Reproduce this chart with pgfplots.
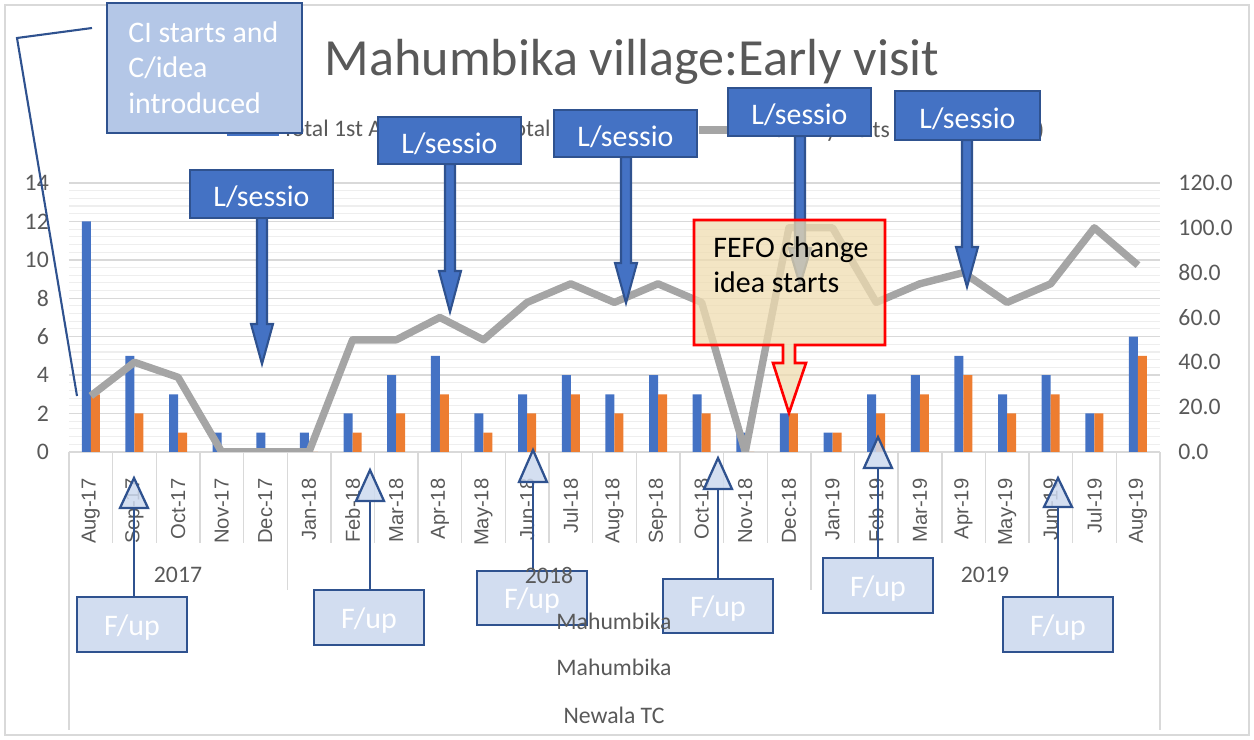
\documentclass[border=0pt]{standalone}
\usepackage{pgfplots}
\pgfplotsset{compat=1.18}
\usepackage{pgfplotstable}
\usepackage{fontspec}
\setmainfont{Carlito}
\newfontfamily\arialf{Liberation Sans}

\definecolor{cblue}{HTML}{4472C4}
\definecolor{corange}{HTML}{ED7D31}
\definecolor{cgray}{HTML}{A5A5A5}
\definecolor{dkblue}{HTML}{2F528F}
\definecolor{txtgray}{HTML}{595959}
\definecolor{gridc}{HTML}{D9D9D9}
\definecolor{minorc}{HTML}{EEEEEE}
\definecolor{ciblue}{HTML}{B4C7E7}
\definecolor{fupblue}{HTML}{CDD9EE}
\definecolor{parch}{HTML}{EFDCB0}

% month index, total 1st visits, early visits, % early
\pgfplotstableread{
x blue orange pct
0 12 3 25.0
1 5 2 40.0
2 3 1 33.3
3 1 0 0
4 1 0 0
5 1 0 0
6 2 1 50.0
7 4 2 50.0
8 5 3 60.0
9 2 1 50.0
10 3 2 66.7
11 4 3 75.0
12 3 2 66.7
13 4 3 75.0
14 3 2 66.7
15 1 0 0
16 2 2 100.0
17 1 1 100.0
18 3 2 66.7
19 4 3 75.0
20 5 4 80.0
21 3 2 66.7
22 4 3 75.0
23 2 2 100.0
24 6 5 83.3
}\datatable

\begin{document}
\begin{tikzpicture}
% px grid: 1px = 0.02cm, y downwards
\begin{scope}[x=0.02cm, y=-0.02cm]
\draw[gridc, line width=0.8pt] (5,5) rectangle (1249,735);
\end{scope}

\begin{axis}[
  at={(1.38cm,-9.04cm)}, anchor=south west,
  scale only axis, width=21.82cm, height=5.38cm,
  xmin=-0.5, xmax=24.5, ymin=0, ymax=14,
  ybar=0pt, bar width=0.18cm,
  axis line style={draw=none},
  tick style={draw=none},
  xtick={0,...,24},
  xticklabels={Aug-17,Sep-17,Oct-17,Nov-17,Dec-17,Jan-18,Feb-18,Mar-18,Apr-18,May-18,Jun-18,Jul-18,Aug-18,Sep-18,Oct-18,Nov-18,Dec-18,Jan-19,Feb-19,Mar-19,Apr-19,May-19,Jun-19,Jul-19,Aug-19},
  xticklabel style={rotate=90, anchor=east, font=\arialf\fontsize{11.5}{11.5}\selectfont, text=txtgray},
  xticklabel shift=0.26cm,
  ytick={0,2,...,14},
  minor y tick num=4,
  ymajorgrids, yminorgrids,
  major grid style={gridc, line width=0.8pt},
  minor grid style={minorc, line width=0.6pt},
  yticklabel style={font=\fontsize{13.5}{13.5}\selectfont, text=txtgray, /pgf/number format/assume math mode=true},
  yticklabel shift=0.28cm,
  legend columns=3,
  legend style={at={(0.521,1.197)}, anchor=center, draw=none, fill=none,
    font=\fontsize{13.5}{13.5}\selectfont, text=txtgray,
    /tikz/every even column/.append style={column sep=0.7cm}},
]
\addplot[fill=cblue, draw=none,
  legend image code/.code={\fill[cblue] (0cm,-0.13cm) rectangle (1.04cm,0.13cm);}]
  table[x=x, y=blue]{\datatable};
\addlegendentry{Total 1st ANC}
\addplot[fill=corange, draw=none,
  legend image code/.code={\fill[corange] (0cm,-0.13cm) rectangle (1.04cm,0.13cm);}]
  table[x=x, y=orange]{\datatable};
\addlegendentry{Total early visits}
\addlegendimage{legend image code/.code={\draw[cgray, line width=4.2pt] (0cm,0cm) -- (1.2cm,0cm);}}
\addlegendentry{\% early visits (before 12 wks)}
\end{axis}

\begin{axis}[
  at={(1.38cm,-9.04cm)}, anchor=south west,
  scale only axis, width=21.82cm, height=5.38cm,
  xmin=-0.5, xmax=24.5, ymin=0, ymax=120,
  axis x line=none,
  axis y line*=right,
  axis line style={draw=none},
  tick style={draw=none},
  ytick={0,20,...,120},
  yticklabel={\pgfmathprintnumber[fixed,fixed zerofill,precision=1,assume math mode=true]{\tick}},
  yticklabel style={font=\fontsize{13.5}{13.5}\selectfont, text=txtgray},
  yticklabel shift=0.25cm,
]
\addplot[cgray, line width=4.2pt, line join=round, mark=none]
  table[x=x, y=pct]{\datatable};
\end{axis}

\begin{scope}[x=0.02cm, y=-0.02cm]
% title
\node[anchor=base, text=txtgray, font=\fontsize{29.7}{30}\selectfont, inner sep=0]
  at (632,76) {Mahumbika village:Early visit};

% category separators
\foreach \i in {1,...,24}
  \draw[gridc, line width=0.8pt] ({69+\i*43.64},452) -- ({69+\i*43.64},543);
\foreach \i in {5,17}
  \draw[gridc, line width=0.8pt] ({69+\i*43.64},452) -- ({69+\i*43.64},590);
\foreach \i in {0,25}
  \draw[gridc, line width=0.8pt] ({69+\i*43.64},452) -- ({69+\i*43.64},730);

% L/sessio callouts: box x1, x2, y1, y2, arrow x, head start, tip
\foreach \xa/\xb/\ya/\yb/\cx/\hs/\tp in {190/333/170/218/262/324/364,
    378/521/117/164/450/271/312, 554/697/110/157/626/263/303,
    728/871/88/136/800/248/285, 895/1040/91/140/967/247/287}{
  \filldraw[fill=cblue, draw=dkblue, line width=1.2pt, line join=miter]
    (\cx-5,\yb) -- (\cx-5,\hs) -- (\cx-11,\hs) -- (\cx,\tp) -- (\cx+11,\hs)
    -- (\cx+5,\hs) -- (\cx+5,\yb) -- cycle;
  \filldraw[fill=cblue, draw=dkblue, line width=1.3pt] (\xa,\ya) rectangle (\xb,\yb);
  \node[text=white, font=\fontsize{17}{17}\selectfont]
    at ({(\xa+\xb)/2},{(\ya+\yb)/2+3}) {L/sessio};
}

% FEFO callout
\filldraw[fill=parch, fill opacity=0.75, draw=red, line width=1.5pt]
  (694,220) -- (885,220) -- (885,345) -- (795,345) -- (795,363) -- (806,363)
  -- (789,413) -- (773,363) -- (783,363) -- (783,345) -- (694,345) -- cycle;
\node[anchor=base west, inner sep=0, font=\fontsize{17}{17}\selectfont] at (713,257) {FEFO change};
\node[anchor=base west, inner sep=0, font=\fontsize{17}{17}\selectfont] at (713,292) {idea starts};

% CI box
\draw[dkblue, line width=1.2pt] (92,28) -- (17,38) -- (77,396);
\filldraw[fill=ciblue, draw=dkblue, line width=1.3pt] (107,3) rectangle (302,133);
\node[anchor=base west, inner sep=0, text=white, font=\fontsize{17}{17}\selectfont] at (128,43) {CI starts and};
\node[anchor=base west, inner sep=0, text=white, font=\fontsize{17}{17}\selectfont] at (128,78) {C/idea};
\node[anchor=base west, inner sep=0, text=white, font=\fontsize{17}{17}\selectfont] at (128,113) {introduced};

% F/up callouts: box x1, x2, y1, y2, line x, tip, triangle base
\foreach \xa/\xb/\ya/\yb/\cx/\tp/\bs in {77/187/597/652/134/478/508,
    314/424/590/645/370/470/501, 477/587/571/625/533/450/482,
    663/773/579/633/718/458/489, 823/933/558/613/878/437/468,
    1003/1113/597/652/1058/478/507}{
  \draw[dkblue, line width=1.2pt] (\cx,\ya) -- (\cx,\bs);
  \filldraw[fill=fupblue, fill opacity=0.85, draw=dkblue, line width=1.3pt, line join=miter]
    (\cx,\tp) -- (\cx+14,\bs) -- (\cx-14,\bs) -- cycle;
  \filldraw[fill=fupblue, fill opacity=0.9, draw=dkblue, line width=1.5pt] (\xa,\ya) rectangle (\xb,\yb);
  \node[text=white, font=\fontsize{17}{17}\selectfont]
    at ({(\xa+\xb)/2},{(\ya+\yb)/2+3}) {F/up};
}

% lower category levels
\node[text=txtgray, font=\fontsize{13.5}{13.5}\selectfont] at (178,575) {2017};
\node[text=txtgray, font=\fontsize{13.5}{13.5}\selectfont] at (549,575) {2018};
\node[text=txtgray, font=\fontsize{13.5}{13.5}\selectfont] at (985,575) {2019};
\node[text=txtgray, font=\fontsize{13.5}{13.5}\selectfont] at (614,621) {Mahumbika};
\node[text=txtgray, font=\fontsize{13.5}{13.5}\selectfont] at (614,667) {Mahumbika};
\node[text=txtgray, font=\fontsize{13.5}{13.5}\selectfont] at (614,715) {Newala TC};

\pgfresetboundingbox
\path[use as bounding box] (0,0) rectangle (1254,740);
\end{scope}
\end{tikzpicture}
\end{document}
